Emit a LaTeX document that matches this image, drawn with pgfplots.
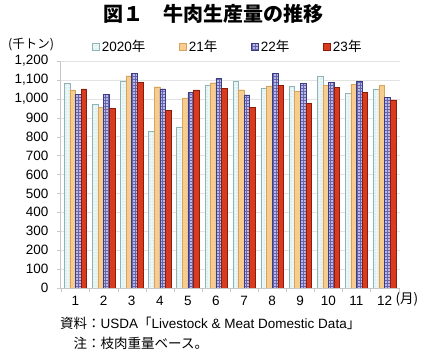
\documentclass[border=0pt]{standalone}
\usepackage{fontspec}
\setmainfont{Liberation Sans}
\newfontfamily\jp{Noto Sans CJK JP}
\usepackage{pgfplots}
\pgfplotsset{compat=1.18}
\usetikzlibrary{patterns}
\definecolor{c20fill}{HTML}{EEF7F7}
\definecolor{c20draw}{HTML}{8DB5B5}
\definecolor{c20pat}{HTML}{9CC4C4}
\definecolor{c21fill}{HTML}{F6CD8E}
\definecolor{c21draw}{HTML}{D6A45A}
\definecolor{c22fill}{HTML}{BABAE4}
\definecolor{c22draw}{HTML}{3C3C82}
\definecolor{c22pat}{HTML}{6464B0}
\definecolor{c23fill}{HTML}{D93B1F}
\definecolor{c23draw}{HTML}{8A1C0C}
\begin{document}
\begin{tikzpicture}
\begin{axis}[
  at={(60pt,67pt)}, anchor=south west,
  scale only axis, width=340pt, height=227pt,
  ybar=0pt, bar width=5.6pt,
  xmin=0.45, xmax=12.55, ymin=0, ymax=1200,
  xtick={1,...,12}, major x tick style={draw=none},
  minor xtick={0.5,1.5,...,12.5}, minor tick length=4pt,
  tick align=outside, major tick length=3pt,
  ytick={0,100,...,1200},
  ymajorgrids, grid style={gray!22},
  axis x line*=bottom, axis y line*=left,
  axis line style={gray!45}, tick style={gray!45},
  scaled y ticks=false,
  yticklabel style={/pgf/number format/1000 sep={,}, xshift=-5pt},
  xticklabel style={yshift=-2pt},
  /pgf/number format/assume math mode=true,
  ticklabel style={font=\fontsize{13.5}{15}\selectfont},
  legend style={at={(0.494,1.062)}, anchor=center, legend columns=4, draw=none, fill=none,
    font=\fontsize{13.5}{15}\selectfont,
    /tikz/every even column/.append style={column sep=32pt},
    /tikz/every odd column/.append style={column sep=0.5pt}},
  legend image code/.code={\draw[#1] (0pt,-3.3pt) rectangle (6.6pt,3.3pt);},
]
\addplot[fill=c20fill, draw=c20draw, postaction={pattern=dots, pattern color=c20pat}] coordinates {
(1,1081) (2,969) (3,1091) (4,828) (5,852) (6,1074) (7,1095) (8,1057) (9,1067) (10,1119) (11,1028) (12,1053)};
\addplot[fill=c21fill, draw=c21draw] coordinates {
(1,1047) (2,956) (3,1122) (4,1064) (5,1005) (6,1085) (7,1048) (8,1069) (9,1040) (10,1071) (11,1077) (12,1071)};
\addplot[fill=c22fill, draw=c22draw, postaction={pattern=grid, pattern color=c22pat}] coordinates {
(1,1025) (2,1022) (3,1133) (4,1053) (5,1034) (6,1109) (7,1021) (8,1133) (9,1081) (10,1088) (11,1095) (12,1008)};
\addplot[fill=c23fill, draw=c23draw] coordinates {
(1,1052) (2,951) (3,1088) (4,939) (5,1047) (6,1057) (7,956) (8,1071) (9,977) (10,1061) (11,1034) (12,995)};
\legend{{2020\jp 年},{21\jp 年},{22\jp 年},{23\jp 年}}
\end{axis}
\node[font=\jp\bfseries\fontsize{20}{24}\selectfont] at (213pt,341pt) {図１　牛肉生産量の推移};
\node[font=\jp\fontsize{12.5}{14}\selectfont] at (31pt,310pt) {(千トン)};
\node[font=\jp\fontsize{13.5}{15}\selectfont, anchor=west] at (392pt,55.5pt) {(月)};
\node[anchor=west, inner sep=0pt, font=\fontsize{13.5}{20}\selectfont] at (60pt,20pt) {%
\begin{tabular}{@{}r@{}l@{}}
{\jp 資料：}&USDA{\jp 「}Livestock \& Meat Domestic Data{\jp 」}\\
{\jp 注：}&{\jp 枝肉重量ベース。}
\end{tabular}};
\pgfresetboundingbox
\path[use as bounding box] (0pt,0pt) rectangle (430pt,355pt);
\end{tikzpicture}
\end{document}
